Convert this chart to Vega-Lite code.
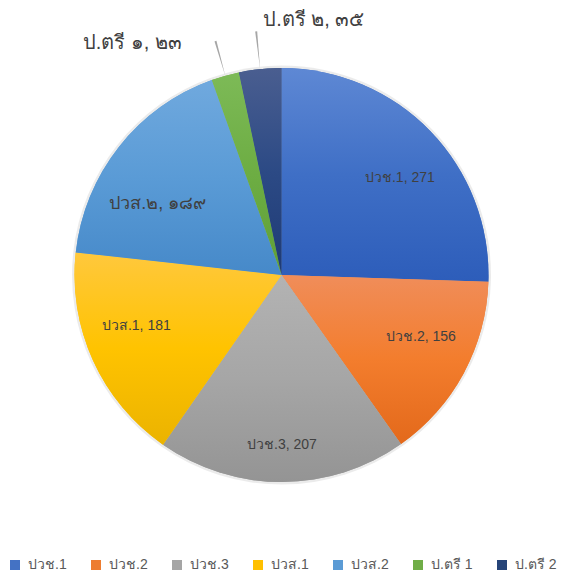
{
  "$schema": "https://vega.github.io/schema/vega-lite/v6.json",
  "width": 563,
  "height": 550,
  "autosize": {"type": "pad"},
  "padding": 0,
  "background": "white",
  "data": {
    "values": [
      {"category": "ปวช.1", "value": 271, "label": "ปวช.1, 271"},
      {"category": "ปวช.2", "value": 156, "label": "ปวช.2, 156"},
      {"category": "ปวช.3", "value": 207, "label": "ปวช.3, 207"},
      {"category": "ปวส.1", "value": 181, "label": "ปวส.1, 181"},
      {"category": "ปวส.2", "value": 189, "label": "ปวส.๒, ๑๘๙"},
      {"category": "ป.ตรี 1", "value": 23, "label": "ป.ตรี ๑, ๒๓"},
      {"category": "ป.ตรี 2", "value": 35, "label": "ป.ตรี ๒, ๓๕"}
    ]
  },
  "transform": [{"window": [{"op": "row_number", "as": "idx"}]}],
  "encoding": {
    "theta": {"field": "value", "type": "quantitative", "stack": true},
    "order": {"field": "idx", "type": "quantitative"}
  },
  "layer": [
    {
      "mark": {"type": "arc", "outerRadius": 209.5, "color": "#000000", "opacity": 0.08}
    },
    {
      "mark": {"type": "arc", "outerRadius": 207},
      "encoding": {
        "color": {
          "field": "category",
          "type": "nominal",
          "sort": null,
          "scale": {
            "domain": ["ปวช.1", "ปวช.2", "ปวช.3", "ปวส.1", "ปวส.2", "ป.ตรี 1", "ป.ตรี 2"],
            "range": ["#4472C4", "#ED7D31", "#A5A5A5", "#FFC000", "#5B9BD5", "#70AD47", "#264478"]
          },
          "legend": {
            "title": null,
            "orient": "none",
            "legendX": 8,
            "legendY": 558,
            "padding": 0,
            "direction": "horizontal",
            "symbolType": "square",
            "symbolSize": 100,
            "symbolStrokeWidth": 0,
            "labelFontSize": 14,
            "labelColor": "#595959",
            "labelFont": "Liberation Sans",
            "columnPadding": 22,
            "labelOffset": 6
          }
        }
      }
    },
    {
      "mark": {"type": "arc", "outerRadius": 207, "fill": {"gradient": "linear", "x1": 0, "y1": 0, "x2": 0, "y2": 1, "stops": [{"offset": 0, "color": "#5E88D4"}, {"offset": 0.5, "color": "#3F6FC6"}, {"offset": 1, "color": "#2D5DBA"}]}},
      "encoding": {"opacity": {"condition": {"test": "datum.category === 'ปวช.1'", "value": 1}, "value": 0}}
    },
    {
      "mark": {"type": "arc", "outerRadius": 207, "fill": {"gradient": "linear", "x1": 0, "y1": 0, "x2": 0, "y2": 1, "stops": [{"offset": 0, "color": "#F08D5A"}, {"offset": 0.5, "color": "#F37D2D"}, {"offset": 1, "color": "#E3691B"}]}},
      "encoding": {"opacity": {"condition": {"test": "datum.category === 'ปวช.2'", "value": 1}, "value": 0}}
    },
    {
      "mark": {"type": "arc", "outerRadius": 207, "fill": {"gradient": "linear", "x1": 0, "y1": 0, "x2": 0, "y2": 1, "stops": [{"offset": 0, "color": "#B3B3B3"}, {"offset": 0.5, "color": "#A6A6A6"}, {"offset": 1, "color": "#949494"}]}},
      "encoding": {"opacity": {"condition": {"test": "datum.category === 'ปวช.3'", "value": 1}, "value": 0}}
    },
    {
      "mark": {"type": "arc", "outerRadius": 207, "fill": {"gradient": "linear", "x1": 0, "y1": 0, "x2": 0, "y2": 1, "stops": [{"offset": 0, "color": "#FFC83D"}, {"offset": 0.5, "color": "#FFC300"}, {"offset": 1, "color": "#EBB300"}]}},
      "encoding": {"opacity": {"condition": {"test": "datum.category === 'ปวส.1'", "value": 1}, "value": 0}}
    },
    {
      "mark": {"type": "arc", "outerRadius": 207, "fill": {"gradient": "linear", "x1": 0, "y1": 0, "x2": 0, "y2": 1, "stops": [{"offset": 0, "color": "#70A9DE"}, {"offset": 0.5, "color": "#5A9BD6"}, {"offset": 1, "color": "#4689C9"}]}},
      "encoding": {"opacity": {"condition": {"test": "datum.category === 'ปวส.2'", "value": 1}, "value": 0}}
    },
    {
      "mark": {"type": "arc", "outerRadius": 207, "fill": {"gradient": "linear", "x1": 0, "y1": 0, "x2": 0, "y2": 1, "stops": [{"offset": 0, "color": "#7DBA57"}, {"offset": 0.5, "color": "#6DAD43"}, {"offset": 1, "color": "#5F9F38"}]}},
      "encoding": {"opacity": {"condition": {"test": "datum.category === 'ป.ตรี 1'", "value": 1}, "value": 0}}
    },
    {
      "mark": {"type": "arc", "outerRadius": 207, "fill": {"gradient": "linear", "x1": 0, "y1": 0, "x2": 0, "y2": 1, "stops": [{"offset": 0, "color": "#4A5E90"}, {"offset": 0.5, "color": "#2C4A85"}, {"offset": 1, "color": "#1E3A75"}]}},
      "encoding": {"opacity": {"condition": {"test": "datum.category === 'ป.ตรี 2'", "value": 1}, "value": 0}}
    },
    {
      "mark": {"type": "arc", "innerRadius": 207, "outerRadius": 243, "padAngle": 0.0973, "color": "#A6A6A6"},
      "encoding": {"opacity": {"condition": {"test": "datum.category === 'ป.ตรี 1'", "value": 1}, "value": 0}}
    },
    {
      "mark": {"type": "arc", "innerRadius": 207, "outerRadius": 245, "padAngle": 0.15184, "color": "#A6A6A6"},
      "encoding": {"opacity": {"condition": {"test": "datum.category === 'ป.ตรี 2'", "value": 1}, "value": 0}}
    },
    {
      "mark": {"type": "text", "radius": 155, "dx": 7, "dy": 11, "fontSize": 14, "color": "#404040", "font": "Liberation Sans"},
      "encoding": {"text": {"condition": {"test": "datum.category === 'ปวช.1'", "field": "label"}, "value": ""}}
    },
    {
      "mark": {"type": "text", "radius": 155, "dx": 3, "dy": -11, "fontSize": 14, "color": "#404040", "font": "Liberation Sans"},
      "encoding": {"text": {"condition": {"test": "datum.category === 'ปวช.2'", "field": "label"}, "value": ""}}
    },
    {
      "mark": {"type": "text", "radius": 155, "dx": 0, "dy": 15, "fontSize": 14, "color": "#404040", "font": "Liberation Sans"},
      "encoding": {"text": {"condition": {"test": "datum.category === 'ปวช.3'", "field": "label"}, "value": ""}}
    },
    {
      "mark": {"type": "text", "radius": 155, "dx": -4, "dy": -13, "fontSize": 14, "color": "#404040", "font": "Liberation Sans"},
      "encoding": {"text": {"condition": {"test": "datum.category === 'ปวส.1'", "field": "label"}, "value": ""}}
    },
    {
      "mark": {"type": "text", "radius": 155, "dx": -2, "dy": 25, "fontSize": 18, "color": "#404040", "font": "Liberation Sans"},
      "encoding": {"text": {"condition": {"test": "datum.category === 'ปวส.2'", "field": "label"}, "value": ""}}
    },
    {
      "mark": {"type": "text", "radius": 245, "fontSize": 20, "color": "#404040", "font": "Liberation Sans", "align": "right", "dx": -33, "dy": 4},
      "encoding": {"text": {"condition": {"test": "datum.category === 'ป.ตรี 1'", "field": "label"}, "value": ""}}
    },
    {
      "mark": {"type": "text", "radius": 255, "fontSize": 20, "color": "#404040", "font": "Liberation Sans", "align": "left", "dx": 8, "dy": -1},
      "encoding": {"text": {"condition": {"test": "datum.category === 'ป.ตรี 2'", "field": "label"}, "value": ""}}
    }
  ]
}
